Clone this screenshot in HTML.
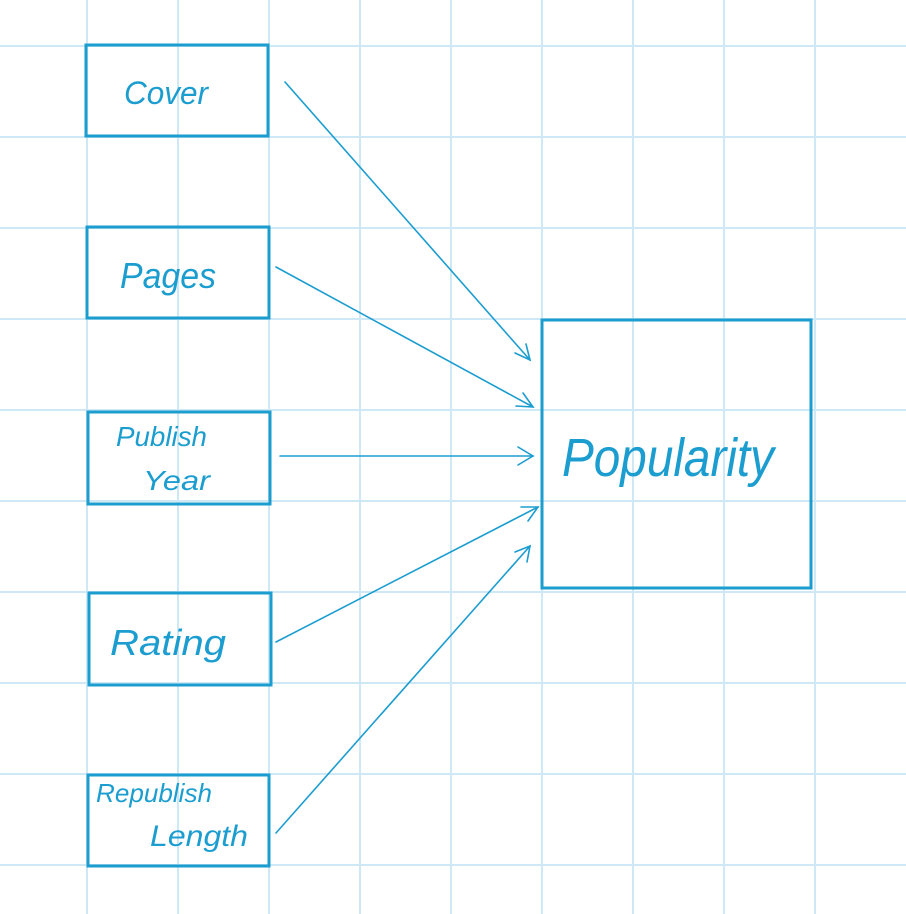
<!DOCTYPE html>
<html><head><meta charset="utf-8"><style>
html,body{margin:0;padding:0;background:#fff;}
svg{display:block}
text{font-family:"Liberation Sans",sans-serif;font-style:italic;fill:#1b9dcf;}
</style></head><body>
<svg width="906" height="914" viewBox="0 0 906 914" xmlns="http://www.w3.org/2000/svg">
<g stroke="#cfe8f5" stroke-width="2">
<line x1="87" y1="0" x2="87" y2="914"/><line x1="178" y1="0" x2="178" y2="914"/><line x1="269" y1="0" x2="269" y2="914"/><line x1="360" y1="0" x2="360" y2="914"/><line x1="451" y1="0" x2="451" y2="914"/><line x1="542" y1="0" x2="542" y2="914"/><line x1="633" y1="0" x2="633" y2="914"/><line x1="724" y1="0" x2="724" y2="914"/><line x1="815" y1="0" x2="815" y2="914"/>
<line x1="0" y1="46" x2="906" y2="46"/><line x1="0" y1="137" x2="906" y2="137"/><line x1="0" y1="228" x2="906" y2="228"/><line x1="0" y1="319" x2="906" y2="319"/><line x1="0" y1="410" x2="906" y2="410"/><line x1="0" y1="501" x2="906" y2="501"/><line x1="0" y1="592" x2="906" y2="592"/><line x1="0" y1="683" x2="906" y2="683"/><line x1="0" y1="774" x2="906" y2="774"/><line x1="0" y1="865" x2="906" y2="865"/>
</g>
<g fill="none" stroke="#1b9dcf" stroke-width="3">
<rect x="86" y="45" width="182" height="91"/>
<rect x="87" y="227" width="182" height="91"/>
<rect x="88" y="412" width="182" height="92"/>
<rect x="89" y="593" width="182" height="92"/>
<rect x="88" y="775" width="181" height="91"/>
<rect x="542" y="320" width="269" height="268"/>
</g>
<g stroke="#1b9dcf" stroke-width="1.6" fill="none" stroke-linecap="round">
<line x1="285" y1="82" x2="530" y2="360"/><polyline points="515,353 530,360 526,344"/>
<line x1="276" y1="267" x2="533" y2="407"/><polyline points="516,406 533,407 523,393"/>
<line x1="280" y1="456" x2="533" y2="456"/><polyline points="518,447 533,456 518,465"/>
<line x1="276" y1="642" x2="538" y2="507"/><polyline points="521,507 538,507 528,521"/>
<line x1="276" y1="833" x2="530" y2="546"/><polyline points="515,552 530,546 527,562"/>
</g>
<text x="124" y="104" font-size="32" textLength="84" lengthAdjust="spacingAndGlyphs">Cover</text>
<text x="120" y="288" font-size="36" textLength="96" lengthAdjust="spacingAndGlyphs">Pages</text>
<text x="116" y="446" font-size="28" textLength="91" lengthAdjust="spacingAndGlyphs">Publish</text>
<text x="143" y="490" font-size="28" textLength="67" lengthAdjust="spacingAndGlyphs">Year</text>
<text x="110" y="655" font-size="36" textLength="116" lengthAdjust="spacingAndGlyphs">Rating</text>
<text x="96" y="802" font-size="26" textLength="116" lengthAdjust="spacingAndGlyphs">Republish</text>
<text x="150" y="846" font-size="30" textLength="98" lengthAdjust="spacingAndGlyphs">Length</text>
<text x="562" y="476" font-size="54" textLength="212" lengthAdjust="spacingAndGlyphs">Popularity</text>
</svg>
</body></html>
